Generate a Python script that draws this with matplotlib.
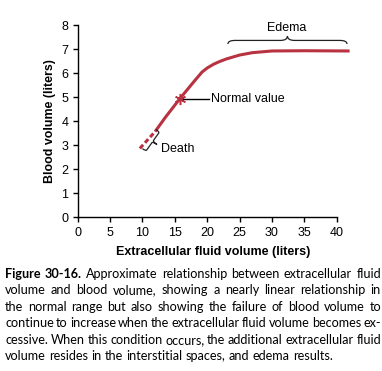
import numpy as np
import matplotlib
matplotlib.use('Agg')
import matplotlib.pyplot as plt
from matplotlib.path import Path
from matplotlib.patches import PathPatch
from matplotlib.transforms import IdentityTransform

# data
ecf_dashed = [9.6, 11.95]
bv_dashed = [2.87, 3.57]
ecf = [11.95, 13.5, 15.8, 18.0, 19.2, 20.0, 21.0, 22.0, 23.0, 25.0, 27.0, 30.0, 35.0, 42.0]
bv = [3.57, 4.15, 4.95, 5.67, 6.05, 6.22, 6.38, 6.5, 6.6, 6.76, 6.86, 6.93, 6.94, 6.93]
normal_pt = (15.8, 4.95)
xticks = [0, 5, 10, 15, 20, 25, 30, 35, 40]
yticks = [0, 1, 2, 3, 4, 5, 6, 7, 8]

caption_lines = [
    "Approximate relationship between extracellular fluid",
    "volume and blood volume, showing a nearly linear relationship in",
    "the normal range but also showing the failure of blood volume to",
    "continue to increase when the extracellular fluid volume becomes ex-",
    "cessive. When this condition occurs, the additional extracellular fluid",
    "volume resides in the interstitial spaces, and edema results.",
]

red = '#b83242'
W, H = 382, 371
plt.rcParams['font.family'] = ['Liberation Sans', 'DejaVu Sans']

fig = plt.figure(figsize=(W / 100, H / 100), dpi=100)
ax = fig.add_axes([77.7 / W, (H - 217.3) / H, 271.9 / W, 192 / H])
ax.set_xlim(0, 42)
ax.set_ylim(0, 8)
ax.spines['top'].set_visible(False)
ax.spines['right'].set_visible(False)
ax.spines['bottom'].set_bounds(0, 40)
for s in ['left', 'bottom']:
    ax.spines[s].set_linewidth(1.0)
ax.set_xticks(xticks)
ax.set_yticks(yticks)
ax.tick_params(direction='out', length=3.6, width=1.0, labelsize=9)
ax.tick_params(axis='x', pad=3.4)
ax.tick_params(axis='y', pad=3.0)
ax.set_xlabel('Extracellular fluid volume (liters)', fontsize=9, fontweight='bold', labelpad=5)
ax.set_ylabel('Blood volume (liters)', fontsize=8.9, fontweight='bold', labelpad=4)

ax.plot(ecf, bv, color=red, lw=2.2, solid_capstyle='butt', clip_on=False)
ax.plot(ecf_dashed, bv_dashed, color=red, lw=2.2, ls=(0, (1.6, 0.9)), clip_on=False)
ax.plot(*normal_pt, marker=(6, 2, 0), ms=8, mew=1.1, color=red)

ax.plot([normal_pt[0] + 0.5, 20.3], [normal_pt[1], normal_pt[1]], color='black', lw=1)
ax.text(20.6, normal_pt[1], 'Normal value', fontsize=9, va='center', ha='left')

ax.text(32.3, 7.88, 'Edema', fontsize=9, ha='center', va='center', clip_on=False)
ax.text(12.8, 2.84, 'Death', fontsize=9, ha='left', va='center')


def brace(p1, p2, depth):
    # curly brace between two data points, tip on the left of p1->p2 (display coords)
    a = ax.transData.transform(p1)
    b = ax.transData.transform(p2)
    d = b - a
    L = np.hypot(*d)
    u = d / L
    n = np.array([-u[1], u[0]])

    def P(t, h):
        return a + u * t * L + n * h * depth
    segs = [
        (Path.MOVETO, P(0, 0)),
        (Path.CURVE3, P(0, 0.45)), (Path.CURVE3, P(0.06, 0.45)),
        (Path.LINETO, P(0.44, 0.45)),
        (Path.CURVE3, P(0.5, 0.45)), (Path.CURVE3, P(0.5, 1.0)),
        (Path.CURVE3, P(0.5, 0.45)), (Path.CURVE3, P(0.56, 0.45)),
        (Path.LINETO, P(0.94, 0.45)),
        (Path.CURVE3, P(1, 0.45)), (Path.CURVE3, P(1, 0)),
    ]
    path = Path([s[1] for s in segs], [s[0] for s in segs])
    fig.add_artist(PathPatch(path, transform=IdentityTransform(), fill=False,
                             ec='#222222', lw=0.9))


fig.canvas.draw()
brace((23.2, 7.22), (41.6, 7.22), 8)
brace((12.1, 3.66), (10.0, 2.86), 9.5)

# justified caption
renderer = fig.canvas.get_renderer()
cap_size = 9.1
cap_font = ['Lato', 'DejaVu Sans']
left, right = 5, 381
y0, dy = 273.5, 16.6


def word_w(s, weight='normal'):
    t = fig.text(0, 0, s, fontsize=cap_size, family=cap_font, fontweight=weight)
    w = t.get_window_extent(renderer).width
    t.remove()
    return w


space = word_w('a a') - word_w('aa')
for i, line in enumerate(caption_lines):
    words = [(w, 'normal') for w in line.split(' ')]
    if i == 0:
        words = [('Figure', 'bold'), ('30-16.', 'bold')] + words
    widths = [word_w(w, wt) for w, wt in words]
    if i < len(caption_lines) - 1:
        gap = (right - left - sum(widths)) / (len(words) - 1)
    else:
        gap = space
    x = left
    y = (H - (y0 + i * dy)) / H
    for (w, wt), wd in zip(words, widths):
        fig.text(x / W, y, w, fontsize=cap_size, family=cap_font, fontweight=wt,
                 va='center', ha='left')
        x += wd + gap

fig.savefig('out.png', dpi=100)
